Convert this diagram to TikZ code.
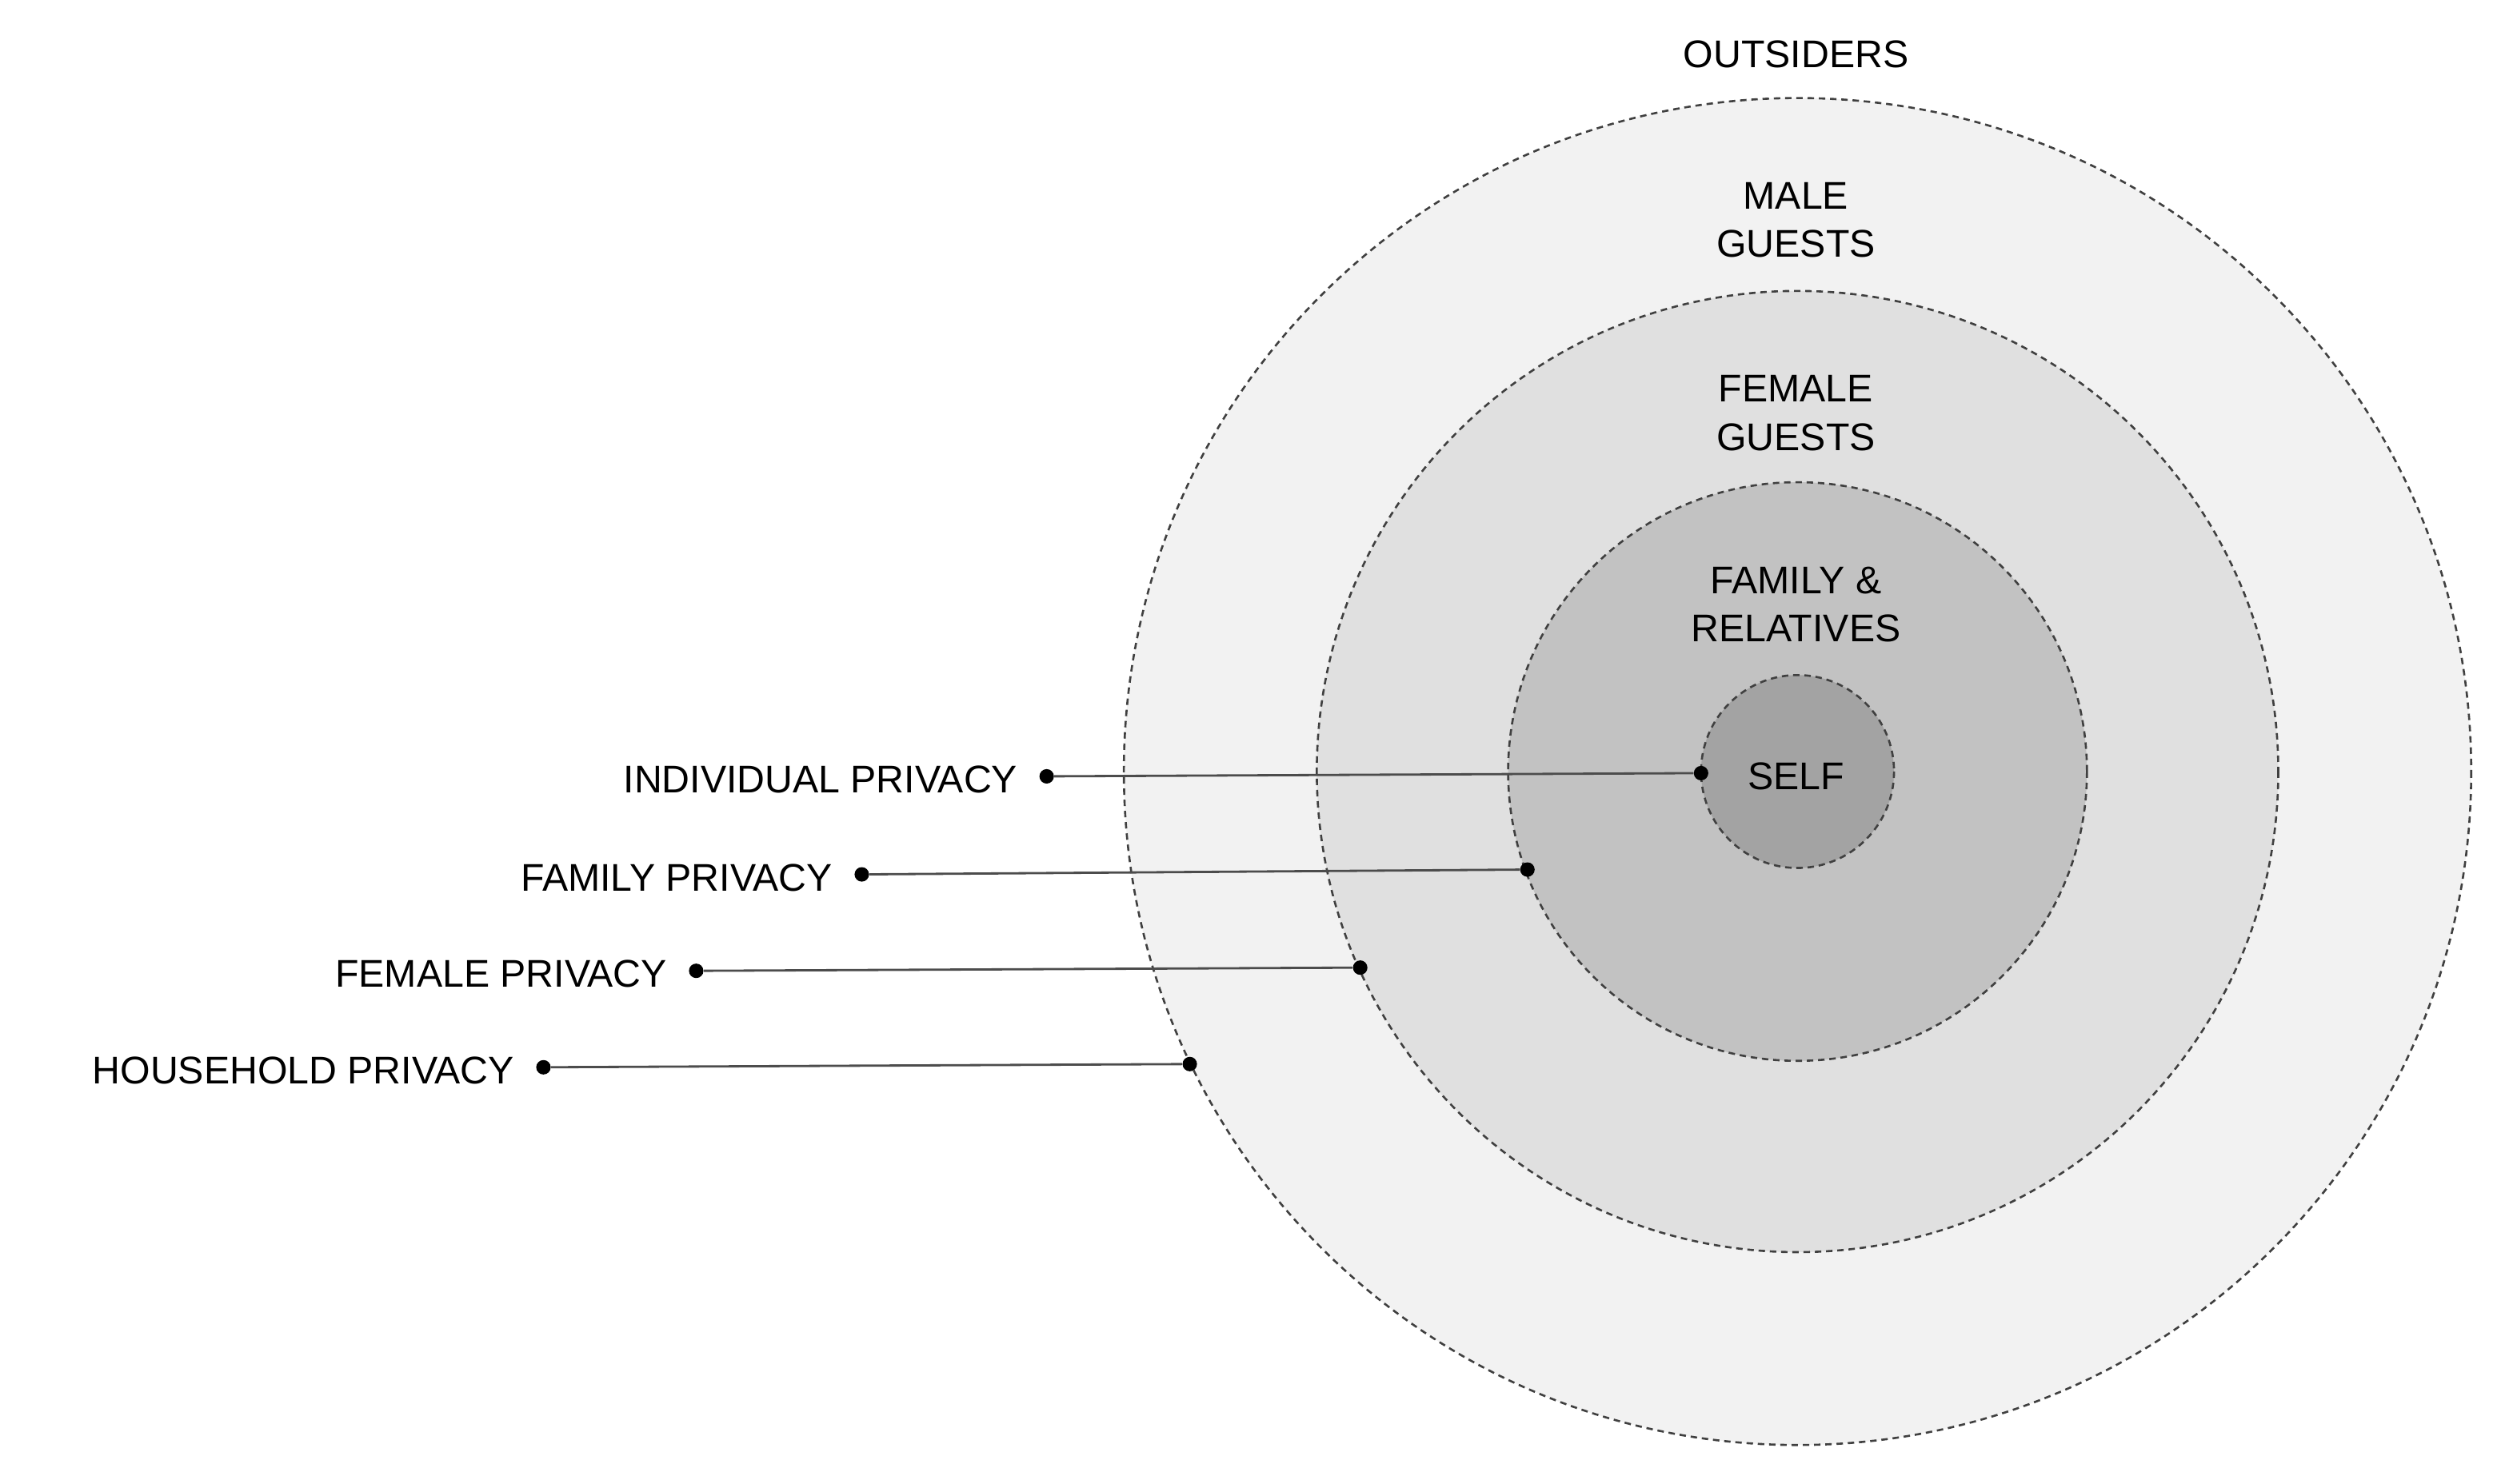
\documentclass[tikz,border=0pt]{standalone}
\usepackage{fontspec}
\setmainfont{Liberation Sans}
\begin{document}
\begin{tikzpicture}[x=1pt,y=-1pt,
  ring/.style={draw=black!75,dashed,line width=1.3pt,dash pattern=on 4pt off 3pt},
  lbl/.style={font=\fontsize{24}{30}\selectfont,align=center,inner sep=0pt},
  dot/.style={circle,fill=black,inner sep=0pt,minimum size=9pt},
  lead/.style={draw=black!70,line width=1.4pt}]
\useasboundingbox[fill=white] (0,0) rectangle (1563,923);
\coordinate (c) at (1118,480);
\fill[black!5] (c) circle (419);
\draw[ring] (c) circle (419);
\fill[black!12] (c) circle (299);
\draw[ring] (c) circle (299);
\fill[black!24] (c) circle (180);
\draw[ring] (c) circle (180);
\fill[black!36] (c) circle (60);
\draw[ring] (c) circle (60);
\node[lbl] (out) at (1117,34) {OUTSIDERS};
\node[lbl] (male) at (1117,137) {MALE\\GUESTS};
\node[lbl] (fem) at (1117,257) {FEMALE\\GUESTS};
\node[lbl] (fam) at (1117,376) {FAMILY \&\\RELATIVES};
\node[lbl] (self) at (1117,483) {SELF};
\node[dot] (d1a) at (651,483) {}; \node[dot] (d1b) at (1058,481) {};
\node[dot] (d2a) at (536,544) {}; \node[dot] (d2b) at (950,541) {};
\node[dot] (d3a) at (433,604) {}; \node[dot] (d3b) at (846,602) {};
\node[dot] (d4a) at (338,664) {}; \node[dot] (d4b) at (740,662) {};
\draw[lead] (d1a) -- (d1b); \draw[lead] (d2a) -- (d2b);
\draw[lead] (d3a) -- (d3b); \draw[lead] (d4a) -- (d4b);
\node[lbl,anchor=east] (l1) at (633,485) {INDIVIDUAL PRIVACY};
\node[lbl,anchor=east] (l2) at (518,546) {FAMILY PRIVACY};
\node[lbl,anchor=east] (l3) at (415,606) {FEMALE PRIVACY};
\node[lbl,anchor=east] (l4) at (320,666) {HOUSEHOLD PRIVACY};
\end{tikzpicture}
\end{document}
